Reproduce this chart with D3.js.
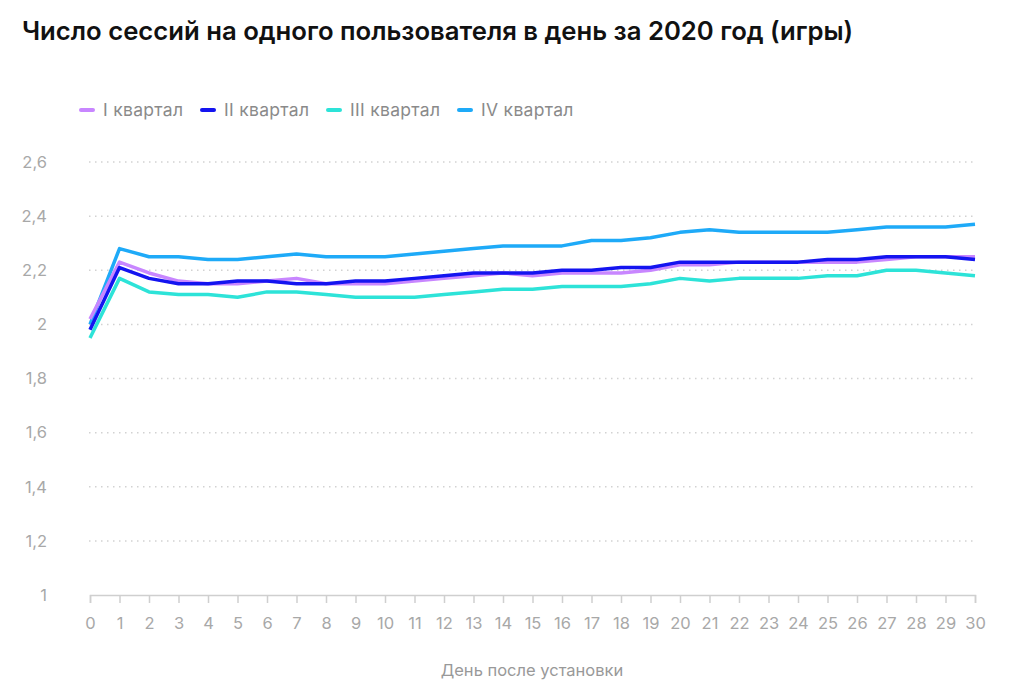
<!DOCTYPE html>
<html><head><meta charset="utf-8">
<script src="https://cdnjs.cloudflare.com/ajax/libs/d3/7.8.5/d3.min.js"></script>
<style>
body{margin:0;background:#fff;}
svg{display:block;}
</style></head>
<body><svg id="c" width="1024" height="695"></svg>
<script>
const days = d3.range(0, 31);
const seriesNames = ["I квартал", "II квартал", "III квартал", "IV квартал"];
const seriesColors = ["#c886ff", "#1414f0", "#2de3d8", "#1eaaf8"];
const q1 = [2.02,2.23,2.19,2.16,2.15,2.15,2.16,2.17,2.15,2.15,2.15,2.16,2.17,2.18,2.19,2.18,2.19,2.19,2.19,2.20,2.22,2.22,2.23,2.23,2.23,2.23,2.23,2.24,2.25,2.25,2.25];
const q2 = [1.98,2.21,2.17,2.15,2.15,2.16,2.16,2.15,2.15,2.16,2.16,2.17,2.18,2.19,2.19,2.19,2.20,2.20,2.21,2.21,2.23,2.23,2.23,2.23,2.23,2.24,2.24,2.25,2.25,2.25,2.24];
const q3 = [1.95,2.17,2.12,2.11,2.11,2.10,2.12,2.12,2.11,2.10,2.10,2.10,2.11,2.12,2.13,2.13,2.14,2.14,2.14,2.15,2.17,2.16,2.17,2.17,2.17,2.18,2.18,2.20,2.20,2.19,2.18];
const q4 = [2.00,2.28,2.25,2.25,2.24,2.24,2.25,2.26,2.25,2.25,2.25,2.26,2.27,2.28,2.29,2.29,2.29,2.31,2.31,2.32,2.34,2.35,2.34,2.34,2.34,2.34,2.35,2.36,2.36,2.36,2.37];
const yTicks = [1, 1.2, 1.4, 1.6, 1.8, 2, 2.2, 2.4, 2.6];
const titleText = "Число сессий на одного пользователя в день за 2020 год (игры)";
const xTitle = "День после установки";

const svg = d3.select("#c");
const x = d3.scaleLinear().domain([0, 30]).range([90, 975]);
const y = d3.scaleLinear().domain([1, 2.6]).range([595, 162]);
const fmt = v => String(v).replace(".", ",");

svg.append("text").attr("x", 22).attr("y", 40)
  .attr("font-family", "Inter, 'Open Sans', sans-serif").attr("font-weight", 600)
  .attr("font-size", 25.7).attr("fill", "#111").text(titleText);

// legend
const legendX = [81, 202, 328, 459];
const lg = svg.append("g");
seriesNames.forEach((n, i) => {
  lg.append("line").attr("x1", legendX[i]).attr("x2", legendX[i] + 12)
    .attr("y1", 110).attr("y2", 110).attr("stroke", seriesColors[i])
    .attr("stroke-width", 4).attr("stroke-linecap", "round");
  lg.append("text").attr("x", legendX[i] + 22).attr("y", 110).attr("dy", "0.35em")
    .attr("font-family", "Inter, sans-serif").attr("font-size", 17.5).attr("letter-spacing", 0.3)
    .attr("fill", "#8a8a8a").text(n);
});

// grid
const grid = svg.append("g");
yTicks.filter(t => t > 1).forEach(t => {
  grid.append("line").attr("x1", 89).attr("x2", 975).attr("y1", y(t)).attr("y2", y(t))
    .attr("stroke", "#d2d2d2").attr("stroke-width", 1.5).attr("stroke-dasharray", "1.5,4.5");
});

// y labels
const yl = svg.append("g");
yTicks.forEach(t => {
  yl.append("text").attr("x", 47).attr("y", y(t)).attr("dy", "0.35em").attr("text-anchor", "end")
    .attr("font-family", "Inter, sans-serif").attr("font-size", 16.5).attr("fill", "#a8a8a8").text(fmt(t));
});

// x axis
const xAxis = d3.axisBottom(x).tickValues(days).tickSize(8).tickPadding(14).tickFormat(d => d);
const xg = svg.append("g").attr("transform", `translate(0,${y(1)})`).call(xAxis);
xg.select(".domain").attr("stroke", "#cfcfcf").attr("stroke-width", 1.5);
xg.selectAll(".tick line").attr("stroke", "#cfcfcf").attr("stroke-width", 1.5);
xg.selectAll(".tick text").attr("font-family", "Inter, sans-serif").attr("font-size", 16.5).attr("fill", "#a8a8a8");

svg.append("text").attr("x", 532).attr("y", 670).attr("dy", "0.35em").attr("text-anchor", "middle")
  .attr("font-family", "Inter, sans-serif").attr("font-size", 16.5).attr("fill", "#999").text(xTitle);

// lines
const data = [q1, q2, q3, q4];
const order = [3, 2, 0, 1];
const line = d3.line().x((d, i) => x(days[i])).y(d => y(d));
order.forEach(i => {
  svg.append("path").attr("d", line(data[i])).attr("fill", "none")
    .attr("stroke", seriesColors[i]).attr("stroke-width", 3.5).attr("stroke-linejoin", "round");
});
</script></body></html>
